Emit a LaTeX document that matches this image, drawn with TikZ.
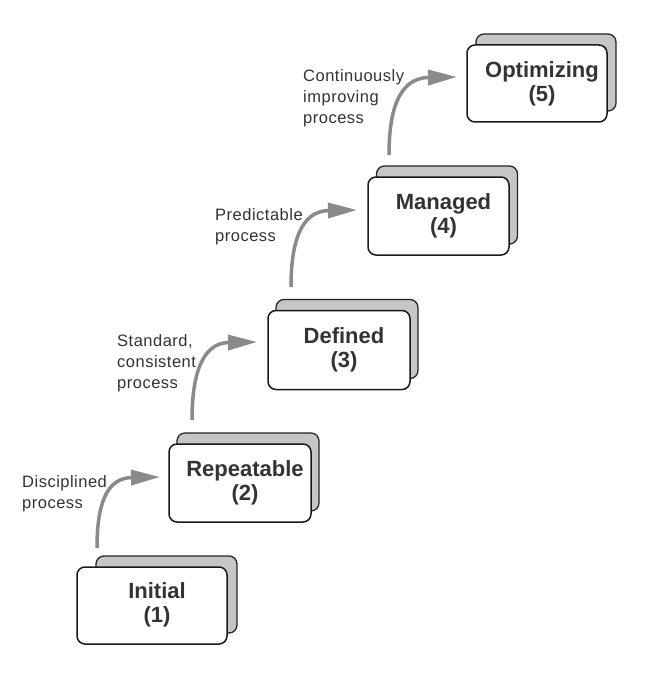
\documentclass[tikz,border=0pt]{standalone}
\usepackage{fontspec}
\setmainfont{Liberation Sans}
\newfontfamily\lblfont[LetterSpace=3]{Liberation Sans}
\usetikzlibrary{arrows.meta}
\definecolor{backgray}{HTML}{C6C6C6}
\definecolor{textgray}{HTML}{333333}
\definecolor{arrowgray}{HTML}{8A8A8A}
\begin{document}
\begin{tikzpicture}[x=1pt,y=-1pt,
  backbox/.style={draw=black!85, line width=1.3pt, rounded corners=8pt, fill=backgray, inner sep=0pt},
  frontbox/.style={draw=black!90, line width=1.5pt, rounded corners=8pt, fill=white, inner sep=0pt},
  boxtext/.style={font=\fontsize{22}{24}\selectfont\bfseries, text=textgray, align=center, inner sep=0pt},
  steplabel/.style={font=\lblfont\fontsize{16.5}{21}\selectfont, text=textgray, align=left, anchor=north west, inner sep=0pt},
  uparrow/.style={draw=arrowgray, line width=3.5pt, -{Triangle[length=29pt,width=15pt]}}
]
\fill[white] (0,0) rectangle (671,679);
\useasboundingbox (0,0) rectangle (671,679);

% boxes: back then front
\node[backbox, minimum width=141pt, minimum height=77pt] (b1back) at (166.5,594.5) {};
\node[frontbox, minimum width=150pt, minimum height=77pt] (b1) at (152,605.5) {};
\node[boxtext] (t1) at (157,605) {Initial\\(1)};

\node[backbox, minimum width=142pt, minimum height=78pt] (b2back) at (248,472) {};
\node[frontbox, minimum width=142pt, minimum height=78pt] (b2) at (240,483) {};
\node[boxtext] (t2) at (245,483) {Repeatable\\(2)};

\node[backbox, minimum width=142pt, minimum height=79pt] (b3back) at (347,339) {};
\node[frontbox, minimum width=142pt, minimum height=79pt] (b3) at (339,350) {};
\node[boxtext] (t3) at (344,350) {Defined\\(3)};

\node[backbox, minimum width=141pt, minimum height=78pt] (b4back) at (447,205) {};
\node[frontbox, minimum width=141pt, minimum height=78pt] (b4) at (438.5,216) {};
\node[boxtext] (t4) at (443.5,216) {Managed\\(4)};

\node[backbox, minimum width=140pt, minimum height=77pt] (b5back) at (546,72.5) {};
\node[frontbox, minimum width=140pt, minimum height=77pt] (b5) at (537,83.5) {};
\node[boxtext] (t5) at (542,83.5) {Optimizing\\(5)};

% arrows
\coordinate (s1) at (97,548);  \coordinate (e1) at (160,477);
\coordinate (s2) at (192,420); \coordinate (e2) at (257,342);
\coordinate (s3) at (291,287); \coordinate (e3) at (357,210);
\coordinate (s4) at (389,155); \coordinate (e4) at (457,77);
\draw[uparrow] (s1) .. controls (97,505) and (106,478) .. (e1);
\draw[uparrow] (s2) .. controls (192,377) and (201,343) .. (e2);
\draw[uparrow] (s3) .. controls (291,244) and (300,211) .. (e3);
\draw[uparrow] (s4) .. controls (389,112) and (398,78) .. (e4);

% labels
\node[steplabel] (l1) at (22,475) {Disciplined\\process};
\node[steplabel] (l2) at (117,334) {Standard,\\consistent\\process};
\node[steplabel] (l3) at (215,208) {Predictable\\process};
\node[steplabel] (l4) at (303,69) {Continuously\\improving\\process};
\end{tikzpicture}
\end{document}
